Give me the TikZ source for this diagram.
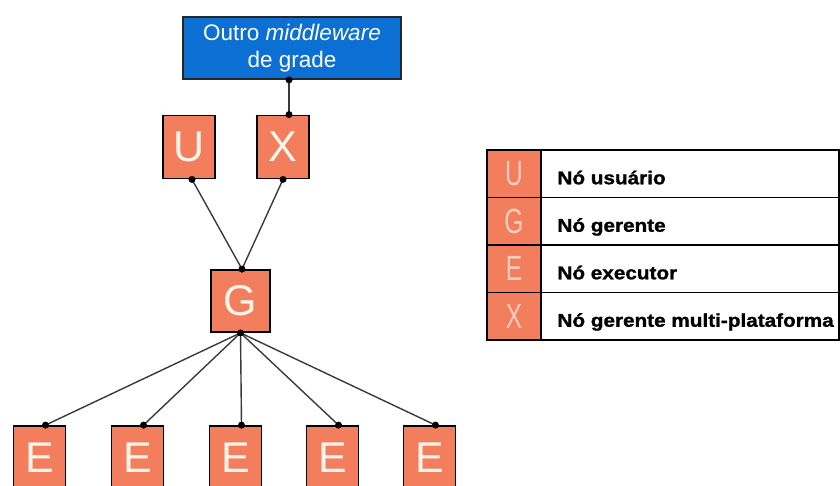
\documentclass[tikz,border=0pt]{standalone}
\usepackage{fontspec}
\setmainfont{Liberation Sans}
\newfontfamily\keyfont[FakeBold=1.2]{Liberation Sans Bold}
\usepackage{graphicx}

\definecolor{salmon}{HTML}{F27E5E}
\definecolor{gridblue}{HTML}{0C6FD4}
\definecolor{linkgray}{HTML}{3A3A3A}
\definecolor{paleletter}{HTML}{F8CDBE}
\definecolor{letterwhite}{HTML}{FFF4EA}

\tikzset{
  nodebox/.style={draw=black, line width=1.8pt, fill=salmon, text=letterwhite,
    inner sep=0pt, font=\fontsize{43}{43}\selectfont,
    minimum width=52pt, minimum height=63pt},
  mwbox/.style={draw=black!85, line width=1.8pt, fill=gridblue, text=white,
    align=center, font=\fontsize{22.5}{27}\selectfont,
    minimum width=218pt, minimum height=62pt, inner sep=0pt},
  link/.style={draw=linkgray, line width=1.4pt},
  joint/.style={circle, fill=black, inner sep=0pt, minimum size=7pt},
  keycell/.style={draw=black, line width=1.5pt, fill=salmon,
    minimum width=54pt, minimum height=47.5pt, inner sep=0pt,
    text=paleletter, font=\fontsize{35}{35}\selectfont},
  labelcell/.style={draw=black, line width=1.5pt, fill=white,
    minimum width=298pt, minimum height=47.5pt, inner sep=0pt},
  keytext/.style={anchor=base west, inner sep=0pt,
    font=\fontsize{18.5}{18.5}\keyfont},
}

\begin{document}
\begin{tikzpicture}[x=1pt,y=-1pt]
\useasboundingbox (0,0) rectangle (840,485);

% hierarchy of grid nodes
\node[mwbox] (mw) at (292,48) {Outro \textit{middleware}\\de grade};
\node[nodebox] (u) at (189,147) {U};
\node[nodebox] (x) at (283,147) {X};
\node[nodebox, minimum width=59pt, minimum height=62pt] (g) at (240.5,301) {G};
\foreach \i/\px in {1/39.5, 2/137.5, 3/235.5, 4/332.5, 5/429.5}
  \node[nodebox] (e\i) at (\px,457.5) {E};

% connectors
\draw[link] ([xshift=-3pt]mw.south) -- ([xshift=6pt]x.north);
\draw[link] ([xshift=3pt]u.south) -- ([xshift=1.5pt]g.north);
\draw[link] (x.south) -- ([xshift=1.5pt]g.north);
\foreach \i in {1,...,5}
  \draw[link] (g.south) -- ([xshift=6pt]e\i.north);

% connection points
\node[joint] at ([xshift=-3pt]mw.south) {};
\node[joint] at ([xshift=6pt]x.north) {};
\node[joint] at ([xshift=3pt]u.south) {};
\node[joint] at (x.south) {};
\node[joint] at ([xshift=1.5pt]g.north) {};
\node[joint] at (g.south) {};
\foreach \i in {1,...,5}
  \node[joint] at ([xshift=6pt]e\i.north) {};

% legend
\foreach \k/\row/\txt in {U/173.75/Nó usuário, G/221.25/Nó gerente,
    E/268.75/Nó executor, X/316.25/Nó gerente multi-plataforma} {
  \node[keycell] (key\k) at (514,\row) {\scalebox{0.7}[1]{\k}};
  \node[labelcell] (lab\k) at (690,\row) {};
  \node[keytext] (txt\k) at ([xshift=17pt, yshift=-10.5pt]lab\k.west)
    {\scalebox{1.12}[1]{\txt}};
}
\end{tikzpicture}
\end{document}
